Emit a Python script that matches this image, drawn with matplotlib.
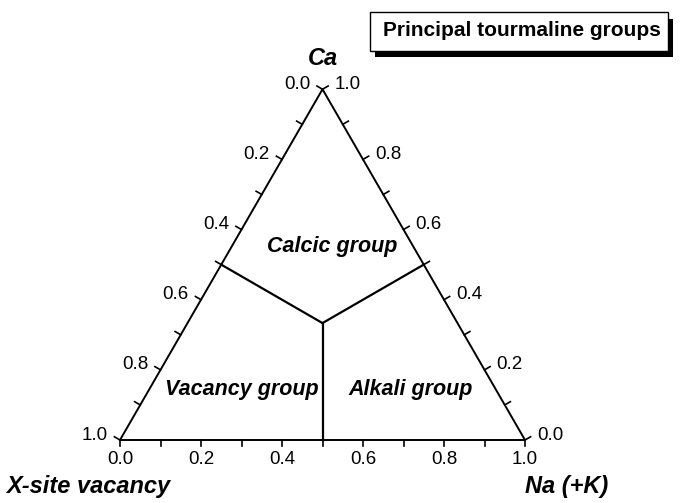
import numpy as np
import matplotlib
matplotlib.use("Agg")
import matplotlib.pyplot as plt
from matplotlib.patches import Rectangle

plt.rcParams['font.family'] = ['Liberation Sans', 'DejaVu Sans']

# axis values
tick_vals = [0.0, 0.1, 0.2, 0.3, 0.4, 0.5, 0.6, 0.7, 0.8, 0.9, 1.0]
label_vals = [0.0, 0.2, 0.4, 0.6, 0.8, 1.0]
corner_names = ['X-site vacancy', 'Na (+K)', 'Ca']
title = 'Principal tourmaline groups'

# group boundaries as (Na, Ca) fractions: centroid to edge midpoints
centre = (1/3, 1/3)
edge_mids = [(0.0, 0.5), (0.5, 0.5), (0.5, 0.0)]
groups = ['Vacancy group', 'Alkali group', 'Calcic group']
group_pos = [(0.23, 0.143), (0.645, 0.143), (0.247, 0.553)]

h = np.sqrt(3) / 2


def tern(na, ca):
    return na + ca / 2, ca * h


fig = plt.figure(figsize=(6.81, 5.03), dpi=100)
ax = fig.add_axes([0, 0, 1, 1])
ax.set_xlim(-120 / 405, 561 / 405)
ax.set_ylim(-63 / 405, 440 / 405)
ax.axis('off')

# triangle
xs, ys = tern(np.array([0, 1, 0, 0]), np.array([0, 0, 1, 0]))
ax.plot(xs, ys, color='black', lw=1.4, solid_joinstyle='miter')

tl = 0.016
fs = 13.5
# bottom axis (Na), ticks pointing down
for v in tick_vals:
    x, y = tern(v, 0)
    ax.plot([x, x], [y, y - tl], color='black', lw=1.2)
for v in label_vals:
    x, y = tern(v, 0)
    ax.text(x, y - 0.028, f'{v:.1f}', ha='center', va='top', fontsize=fs)

# left axis (vacancy: 0 at top, 1 at bottom), ticks perpendicular outward
nl = np.array([-h, 0.5])
for v in tick_vals:
    x, y = tern(0, 1 - v)
    ax.plot([x, x + nl[0] * tl], [y, y + nl[1] * tl], color='black', lw=1.2)
for v in label_vals:
    x, y = tern(0, 1 - v)
    ax.text(x - 0.03, y + 0.012, f'{v:.1f}', ha='right', va='center', fontsize=fs)

# right axis (Ca: 1 at top, 0 at bottom)
nr = np.array([h, 0.5])
for v in tick_vals:
    x, y = tern(1 - v, v)
    ax.plot([x, x + nr[0] * tl], [y, y + nr[1] * tl], color='black', lw=1.2)
for v in label_vals:
    x, y = tern(1 - v, v)
    ax.text(x + 0.03, y + 0.012, f'{v:.1f}', ha='left', va='center', fontsize=fs)

# group boundaries
cx, cy = tern(*centre)
for m in edge_mids:
    mx, my = tern(*m)
    ax.plot([cx, mx], [cy, my], color='black', lw=1.6)

for name, (na, ca) in zip(groups, group_pos):
    x, y = tern(na, ca)
    ax.text(x, y, name, ha='center', va='center', fontsize=15.5,
            fontweight='bold', fontstyle='italic')

# corner labels
ax.text(0.5, h + 0.077, corner_names[2], ha='center', va='center', fontsize=17,
        fontweight='bold', fontstyle='italic')
ax.text((88 - 120) / 405, -0.115, corner_names[0], ha='center', va='center',
        fontsize=17, fontweight='bold', fontstyle='italic')
ax.text((567 - 120) / 405, -0.115, corner_names[1], ha='center', va='center',
        fontsize=17, fontweight='bold', fontstyle='italic')

# title box with shadow
fig.patches.append(Rectangle((375 / 681, 1 - 57 / 503), 298 / 681, 38 / 503,
                             transform=fig.transFigure, facecolor='black',
                             edgecolor='none'))
fig.patches.append(Rectangle((370 / 681, 1 - 51 / 503), 298 / 681, 39 / 503,
                             transform=fig.transFigure, facecolor='white',
                             edgecolor='black', lw=1.0))
fig.text(522 / 681, 1 - 31 / 503, title, ha='center', va='center',
         fontsize=15, fontweight='bold')

fig.savefig('out.png', dpi=100)
